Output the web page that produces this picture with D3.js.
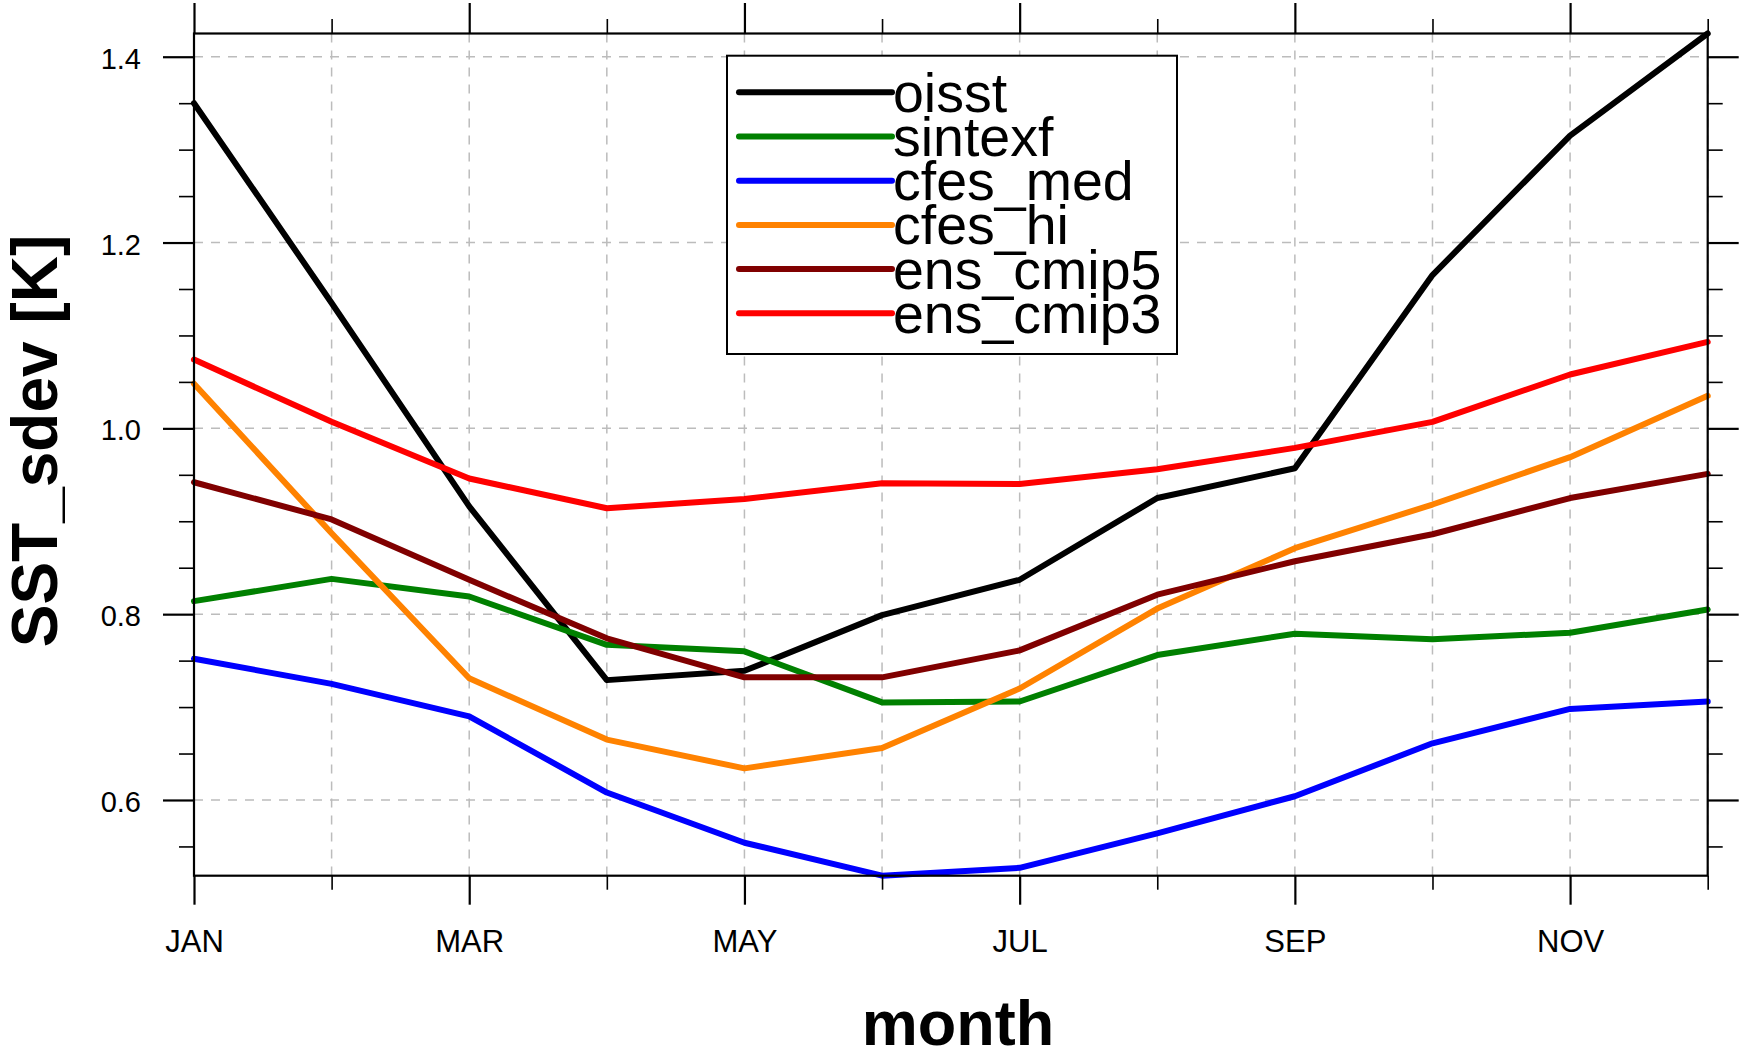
<!DOCTYPE html>
<html>
<head>
<meta charset="utf-8">
<script src="https://cdn.jsdelivr.net/npm/d3@7"></script>
<style>
  html, body { margin: 0; padding: 0; background: #fff; }
  svg { display: block; font-family: "Liberation Sans", Arial, Helvetica, sans-serif; }
</style>
</head>
<body>
<svg id="chart" width="1740" height="1052"></svg>
<script>
// Monthly SST standard deviation [K]
const months = ["JAN", "FEB", "MAR", "APR", "MAY", "JUN", "JUL", "AUG", "SEP", "OCT", "NOV", "DEC"];
const oisst     = [1.350, 1.135, 0.916, 0.729, 0.739, 0.799, 0.837, 0.925, 0.957, 1.165, 1.315, 1.425];
const sintexf   = [0.814, 0.838, 0.819, 0.767, 0.760, 0.705, 0.706, 0.756, 0.779, 0.773, 0.780, 0.805];
const cfes_med  = [0.752, 0.725, 0.690, 0.608, 0.554, 0.5185, 0.527, 0.564, 0.604, 0.661, 0.698, 0.706];
const cfes_hi   = [1.048, 0.887, 0.731, 0.665, 0.634, 0.656, 0.720, 0.806, 0.871, 0.918, 0.969, 1.035];
const ens_cmip5 = [0.942, 0.902, 0.837, 0.774, 0.732, 0.732, 0.761, 0.821, 0.857, 0.886, 0.925, 0.951];
const ens_cmip3 = [1.074, 1.007, 0.946, 0.914, 0.924, 0.941, 0.940, 0.956, 0.979, 1.007, 1.058, 1.093];

const seriesNames  = ["oisst", "sintexf", "cfes_med", "cfes_hi", "ens_cmip5", "ens_cmip3"];
const seriesValues = [oisst, sintexf, cfes_med, cfes_hi, ens_cmip5, ens_cmip3];
const seriesColors = ["#000000", "#008000", "#0000ff", "#ff8200", "#800000", "#ff0000"];

const yMajorTicks = [0.6, 0.8, 1.0, 1.2, 1.4];
const yMinorTicks = [0.55, 0.65, 0.7, 0.75, 0.85, 0.9, 0.95, 1.05, 1.1, 1.15, 1.25, 1.3, 1.35];
const xMajorTicks = [0, 2, 4, 6, 8, 10];
const xMinorTicks = [1, 3, 5, 7, 9, 11];

// plot frame
const frameL = 194, frameR = 1707.7, frameT = 33.5, frameB = 875.7;

const svg = d3.select("#chart");

const x = d3.scaleLinear().domain([0, months.length - 1]).range([frameL, frameR]);
const allVals = seriesValues.flat();
const y = d3.scaleLinear().domain(d3.extent(allVals)).range([frameB, frameT]);

// grid
const grid = svg.append("g")
  .attr("stroke", "#bcbcbc").attr("stroke-width", 1.5).attr("stroke-dasharray", "9,8").attr("fill", "none");
grid.selectAll("line.gx").data(d3.range(months.length)).join("line")
  .attr("class", "gx")
  .attr("x1", d => x(d)).attr("x2", d => x(d))
  .attr("y1", frameT).attr("y2", frameB);
grid.selectAll("line.gy").data(yMajorTicks).join("line")
  .attr("class", "gy")
  .attr("x1", frameL).attr("x2", frameR)
  .attr("y1", d => y(d)).attr("y2", d => y(d));

// data lines
const line = d3.line().x((d, i) => x(i)).y(d => y(d));
svg.append("g").selectAll("path").data(seriesValues).join("path")
  .attr("d", line)
  .attr("fill", "none")
  .attr("stroke", (d, i) => seriesColors[i])
  .attr("stroke-width", 6)
  .attr("stroke-linejoin", "round")
  .attr("stroke-linecap", "round");

// axes
function styleAxis(g, width) {
  g.select(".domain").remove();
  g.selectAll(".tick line").attr("stroke", "#000").attr("stroke-width", width);
}

// left axis
svg.append("g").attr("transform", `translate(${frameL},0)`)
  .call(d3.axisLeft(y).tickValues(yMinorTicks).tickSize(15).tickFormat(""))
  .call(g => styleAxis(g, 1.6));
svg.append("g").attr("transform", `translate(${frameL},0)`)
  .call(d3.axisLeft(y).tickValues(yMajorTicks).tickSize(31).tickPadding(22).tickFormat(d3.format(".1f")))
  .call(g => styleAxis(g, 2.2))
  .call(g => g.selectAll(".tick text")
    .attr("fill", "#000").attr("font-size", 29).attr("dy", "0.4em")
    .attr("font-family", "'Liberation Sans', Arial, Helvetica, sans-serif"));

// right axis
svg.append("g").attr("transform", `translate(${frameR},0)`)
  .call(d3.axisRight(y).tickValues(yMinorTicks).tickSize(15).tickFormat(""))
  .call(g => styleAxis(g, 1.6));
svg.append("g").attr("transform", `translate(${frameR},0)`)
  .call(d3.axisRight(y).tickValues(yMajorTicks).tickSize(31).tickFormat(""))
  .call(g => styleAxis(g, 2.2));

// bottom axis
svg.append("g").attr("transform", `translate(0,${frameB})`)
  .call(d3.axisBottom(x).tickValues(xMinorTicks).tickSize(14).tickFormat(""))
  .call(g => styleAxis(g, 1.6));
svg.append("g").attr("transform", `translate(0,${frameB})`)
  .call(d3.axisBottom(x).tickValues(xMajorTicks).tickSize(29).tickPadding(25).tickFormat(i => months[i]))
  .call(g => styleAxis(g, 2.2))
  .call(g => g.selectAll(".tick text")
    .attr("fill", "#000").attr("font-size", 31)
    .attr("font-family", "'Liberation Sans', Arial, Helvetica, sans-serif"));

// top axis
svg.append("g").attr("transform", `translate(0,${frameT})`)
  .call(d3.axisTop(x).tickValues(xMinorTicks).tickSize(14.5).tickFormat(""))
  .call(g => styleAxis(g, 1.6));
svg.append("g").attr("transform", `translate(0,${frameT})`)
  .call(d3.axisTop(x).tickValues(xMajorTicks).tickSize(30.5).tickFormat(""))
  .call(g => styleAxis(g, 2.2));

// frame
svg.append("rect")
  .attr("x", frameL).attr("y", frameT)
  .attr("width", frameR - frameL).attr("height", frameB - frameT)
  .attr("fill", "none").attr("stroke", "#000").attr("stroke-width", 2.2);

// axis titles
svg.append("text")
  .attr("transform", `translate(57,441) rotate(-90)`)
  .attr("text-anchor", "middle")
  .attr("font-size", 64).attr("font-weight", "bold")
  .text("SST_sdev [K]");
svg.append("text")
  .attr("x", 958).attr("y", 1045)
  .attr("text-anchor", "middle")
  .attr("font-size", 63).attr("font-weight", "bold")
  .text("month");

// legend
const legX = 727, legY = 55.7, legW = 450, legH = 298.3;
const leg = svg.append("g");
leg.append("rect")
  .attr("x", legX).attr("y", legY).attr("width", legW).attr("height", legH)
  .attr("fill", "#fff").attr("stroke", "#000").attr("stroke-width", 2);
const rowY = i => 92.3 + i * 44.2;
const rows = leg.selectAll("g.row").data(seriesNames).join("g").attr("class", "row");
rows.append("line")
  .attr("x1", 739).attr("x2", 892)
  .attr("y1", (d, i) => rowY(i)).attr("y2", (d, i) => rowY(i))
  .attr("stroke", (d, i) => seriesColors[i])
  .attr("stroke-width", 6).attr("stroke-linecap", "round");
rows.append("text")
  .attr("x", 893).attr("y", (d, i) => rowY(i) + 19.5)
  .attr("font-size", 55.5).attr("fill", "#000")
  .text(d => d);
</script>
</body>
</html>
